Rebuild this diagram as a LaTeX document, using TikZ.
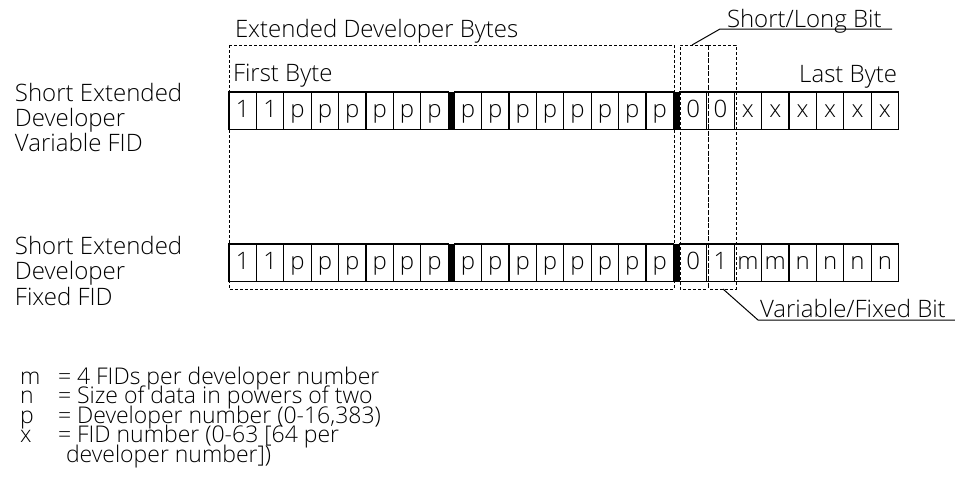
\documentclass[tikz,border=0pt]{standalone}
\usepackage{fontspec}
\setmainfont{Open Sans}[UprightFont={* Light}]
\begin{document}
\begin{tikzpicture}[x=0.5pt,y=-0.5pt,
  every node/.style={font=\fontsize{12}{12.5}\selectfont},
  cell/.style={draw, line width=0.55pt, minimum width=13.7pt, minimum height=18.75pt,
    inner sep=0pt, outer sep=0pt, anchor=north west, text height=6.5pt, text depth=0pt},
  bar/.style={fill=black, draw=black, line width=0.3pt, minimum width=3pt, minimum height=18.75pt,
    inner sep=0pt, outer sep=0pt, anchor=north west},
  dotbox/.style={line width=0.5pt, dash pattern=on 1.5pt off 1pt},
  sharededge/.style={line width=0.5pt, dash pattern=on 2.5pt off 0.8pt},
  leader/.style={line width=0.5pt},
  txt/.style={anchor=base west, inner sep=0pt, outer sep=0pt},
  txtr/.style={anchor=base east, inner sep=0pt, outer sep=0pt},
  key/.style={txt, font=\fontsize{11.5}{12}\selectfont}]
\useasboundingbox (0,0) rectangle (955,479);

% bit rows
\foreach \t [count=\i from 0] in {1,1,p,p,p,p,p,p,p,p,p,p,p,p,p,p,0,0,x,x,x,x,x,x} {
  \pgfmathsetmacro\xx{229 + int(\i/8)*225.2 + mod(\i,8)*27.4}
  \node[cell] (r1c\i) at (\xx,92) {\t};
}
\foreach \t [count=\i from 0] in {1,1,p,p,p,p,p,p,p,p,p,p,p,p,p,p,0,1,m,m,n,n,n,n} {
  \pgfmathsetmacro\xx{229 + int(\i/8)*225.2 + mod(\i,8)*27.4}
  \node[cell] (r2c\i) at (\xx,244) {\t};
}
% byte separators
\node[bar] (r1b1) at (448.2,92) {};
\node[bar] (r1b2) at (673.4,92) {};
\node[bar] (r2b1) at (448.2,244) {};
\node[bar] (r2b2) at (673.4,244) {};

% grouping frames
\draw[dotbox] (229,45) rectangle (674,289);
\draw[dotbox] (708,45) -- (680,45) -- (680,289) -- (708,289);
\draw[dotbox] (708,45) -- (736,45) -- (736,289) -- (708,289);
\draw[sharededge] (708,45) -- (708,289);

% row labels
\node[txt] (la1) at (15,101) {Short Extended};
\node[txt] (la2) at (15,126) {Developer};
\node[txt] (la3) at (15,151) {Variable FID};
\node[txt] (lb1) at (15,254) {Short Extended};
\node[txt] (lb2) at (15,279) {Developer};
\node[txt] (lb3) at (15,305) {Fixed FID};

% headings
\node[txt] (edb) at (235,37) {Extended Developer Bytes};
\node[txt] (first) at (233,81) {First Byte};
\node[txtr] (last) at (897,82) {Last Byte};

% bit callouts
\node[txt] (slb) at (727,27) {Short/Long Bit};
\coordinate (slA) at (692,45);
\coordinate (slB) at (720,29);
\coordinate (slC) at (892,29);
\draw[leader] (slA) -- (slB) -- (slC);

\node[txt] (vfb) at (760,317) {Variable/Fixed Bit};
\coordinate (vfA) at (723,289);
\coordinate (vfB) at (758,320);
\coordinate (vfC) at (955,320);
\draw[leader] (vfA) -- (vfB) -- (vfC);

% legend
\node[key] (km) at (20,384) {m};
\node[key] (kn) at (20,403.5) {n};
\node[key] (kp) at (20,423) {p};
\node[key] (kx) at (20,442.5) {x};
\node[key] (dm) at (58,384) {= 4 FIDs per developer number};
\node[key] (dn) at (58,403.5) {= Size of data in powers of two};
\node[key] (dp) at (58,423) {= Developer number (0-16,383)};
\node[key] (dx) at (58,442.5) {= FID number (0-63 [64 per};
\node[key] (dx2) at (66,462) {developer number])};
\end{tikzpicture}
\end{document}
